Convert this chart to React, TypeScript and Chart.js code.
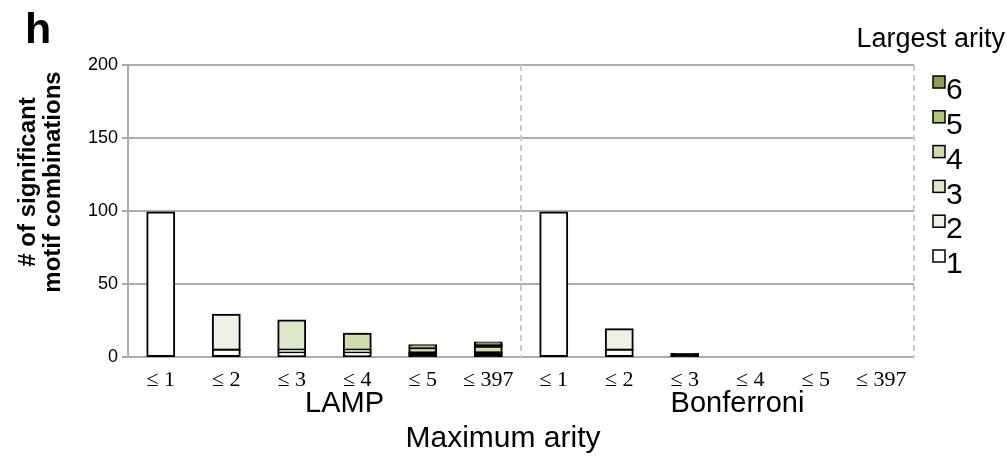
import { useEffect, useRef } from 'react';
import { Chart, registerables } from 'chart.js';

Chart.register(...registerables);

// Maximum-arity bins, LAMP block first, then Bonferroni block
const categories = ['≤ 1', '≤ 2', '≤ 3', '≤ 4', '≤ 5', '≤ 397', '≤ 1', '≤ 2', '≤ 3', '≤ 4', '≤ 5', '≤ 397'];
const groups = ['LAMP', 'Bonferroni'];
const arityLabels = ['1', '2', '3', '4', '5', '6'];

// Number of significant motif combinations split by largest arity
const arity1 = [99, 5, 3, 3, 1, 1, 99, 5, 1, 0, 0, 0];
const arity2 = [0, 24, 2, 2, 1, 1, 0, 14, 1, 0, 0, 0];
const arity3 = [0, 0, 20, 0, 1, 1, 0, 0, 0, 0, 0, 0];
const arity4 = [0, 0, 0, 11, 3, 4, 0, 0, 0, 0, 0, 0];
const arity5 = [0, 0, 0, 0, 2, 1, 0, 0, 0, 0, 0, 0];
const arity6 = [0, 0, 0, 0, 0, 2, 0, 0, 0, 0, 0, 0];
const aritySeries = [arity1, arity2, arity3, arity4, arity5, arity6];
const arityColors = ['#ffffff', '#eef1e3', '#dfe7c9', '#cfdcab', '#b0c672', '#8b9d52'];

const yMax = 200;
const yStep = 50;

const SANS = '"Liberation Sans", Arial, sans-serif';
const SERIF = '"Liberation Serif", "Times New Roman", serif';

// A segment thinner than its own outline is drawn solid in the outline colour.
function segmentFill(ctx: any) {
  const colour = arityColors[ctx.datasetIndex];
  const y = ctx.chart.scales?.y;
  const v = ctx.raw;
  if (!y || typeof v !== 'number' || v === 0) return colour;
  const h = Math.abs(y.getPixelForValue(v) - y.getPixelForValue(0));
  return h < 2 ? '#000000' : colour;
}

const figureText = {
  id: 'figureText',
  beforeDatasetsDraw(chart: any) {
    const { ctx, chartArea, scales } = chart;
    const x = scales.x;
    ctx.save();
    ctx.strokeStyle = '#cccccc';
    ctx.lineWidth = 2;
    ctx.setLineDash([6, 4]);
    // dashed separators after each block of six bins
    for (const v of [5.5, 11.5]) {
      const px = Math.round(x.getPixelForValue(v));
      ctx.beginPath();
      ctx.moveTo(px, chartArea.top);
      ctx.lineTo(px, chartArea.bottom);
      ctx.stroke();
    }
    ctx.restore();
  },
  afterDraw(chart: any) {
    const { ctx, chartArea, scales } = chart;
    const x = scales.x;
    ctx.save();
    ctx.fillStyle = '#000';

    // panel letter
    ctx.font = `bold 43px ${SANS}`;
    ctx.textAlign = 'left';
    ctx.textBaseline = 'alphabetic';
    ctx.fillText('h', 25, 43);

    // y-axis title (two lines, rotated)
    ctx.font = `bold 24px ${SANS}`;
    ctx.textAlign = 'center';
    ctx.textBaseline = 'middle';
    const yTitle = ['# of significant', 'motif combinations'];
    const titleY = 182;
    yTitle.forEach((line, i) => {
      ctx.save();
      ctx.translate(28 + i * 25, titleY);
      ctx.rotate(-Math.PI / 2);
      ctx.fillText(line, 0, 0);
      ctx.restore();
    });

    // group labels under the tick labels
    ctx.font = `29px ${SANS}`;
    ctx.textAlign = 'center';
    ctx.textBaseline = 'middle';
    groups.forEach((g, gi) => {
      const cx = (x.getPixelForValue(gi * 6) + x.getPixelForValue(gi * 6 + 5)) / 2 + 20;
      ctx.fillText(g, cx, chartArea.bottom + 47);
    });

    // x-axis title
    ctx.font = `30px ${SANS}`;
    ctx.fillText('Maximum arity', x.getPixelForValue(5.5) - 18, chartArea.bottom + 82);

    // legend
    ctx.font = `27px ${SANS}`;
    ctx.textAlign = 'right';
    ctx.fillText('Largest arity', 1005, 40);
    const ds = chart.data.datasets;
    ctx.font = `30px ${SANS}`;
    ctx.textAlign = 'left';
    for (let i = ds.length - 1, row = 0; i >= 0; i--, row++) {
      const cy = 82 + row * 34.8;
      ctx.fillStyle = arityColors[i];
      ctx.fillRect(933, cy - 6, 12, 12);
      ctx.strokeStyle = '#000';
      ctx.lineWidth = 1.5;
      ctx.strokeRect(933, cy - 6, 12, 12);
      ctx.fillStyle = '#000';
      ctx.fillText(ds[i].label, 946, cy + 9);
    }
    ctx.restore();
  },
};

export default function App() {
  const canvasRef = useRef<HTMLCanvasElement | null>(null);

  useEffect(() => {
    const canvas = canvasRef.current;
    if (!canvas) return;
    const chart = new Chart(canvas, {
      type: 'bar',
      data: {
        labels: categories,
        datasets: aritySeries.map((values, i) => ({
          label: arityLabels[i],
          data: values,
          backgroundColor: segmentFill,
          borderColor: '#000000',
          borderWidth: 2,
          borderSkipped: false,
          // outline centred on the segment edge, so neighbours share one line
          inflateAmount: 1,
          barPercentage: 0.41,
          categoryPercentage: 1,
        })),
      },
      options: {
        responsive: false,
        animation: false,
        devicePixelRatio: 1,
        layout: { padding: { left: 0, right: 93, top: 65, bottom: 0 } },
        plugins: {
          legend: { display: false },
          tooltip: { enabled: false },
          title: { display: false },
        },
        scales: {
          x: {
            stacked: true,
            afterFit: (scale: any) => {
              scale.height = 117;
            },
            grid: { display: false, drawTicks: false },
            border: { display: false },
            ticks: {
              padding: 10,
              color: '#000',
              maxRotation: 0,
              autoSkip: false,
              font: { family: SERIF, size: 22 },
            },
          },
          y: {
            stacked: true,
            min: 0,
            max: yMax,
            afterFit: (scale: any) => {
              scale.width = 128;
            },
            grid: {
              color: '#adadad',
              lineWidth: 2,
              drawTicks: true,
              tickLength: 6,
            },
            border: { display: true, color: '#adadad', width: 2 },
            ticks: {
              stepSize: yStep,
              padding: 4,
              color: '#000',
              font: { family: SANS, size: 18 },
            },
          },
        },
      },
      plugins: [figureText],
    });
    return () => chart.destroy();
  }, []);

  return (
    <div style={{ position: 'absolute', left: 0, top: 0, width: 1007, height: 474, background: '#fff' }}>
      <canvas ref={canvasRef} width={1007} height={474} style={{ display: 'block' }} />
    </div>
  );
}
